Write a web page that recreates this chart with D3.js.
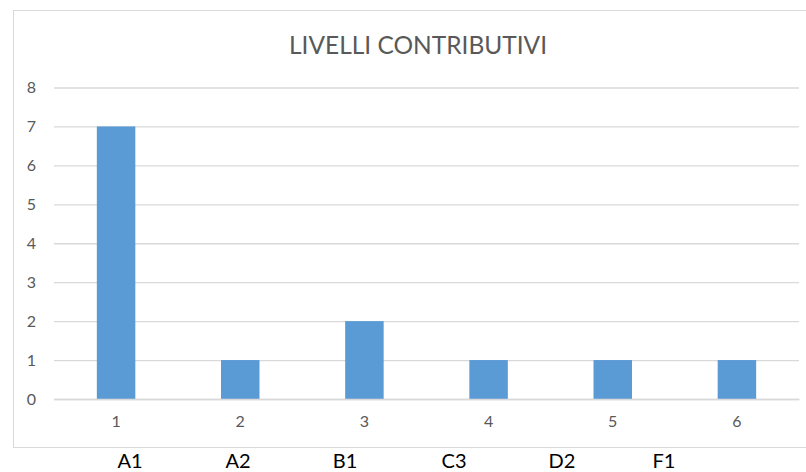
<!DOCTYPE html>
<html>
<head>
<meta charset="utf-8">
<script src="https://cdn.jsdelivr.net/npm/d3@7"></script>
<style>
  html, body { margin: 0; padding: 0; background: #fff; }
  svg { display: block; }
</style>
</head>
<body>
<svg id="chart" width="806" height="472"></svg>
<script>
const title = "LIVELLI CONTRIBUTIVI";
const categories = ["1", "2", "3", "4", "5", "6"];
const values = [7, 1, 2, 1, 1, 1];
const yTicks = [0, 1, 2, 3, 4, 5, 6, 7, 8];
const bottomLabels = ["A1", "A2", "B1", "C3", "D2", "F1"];
const bottomLabelX = [130, 238, 345, 454, 562, 664];

const svg = d3.select("#chart");
const font = "Lato, 'Open Sans', sans-serif";

// chart frame
svg.append("rect")
  .attr("x", 13.5).attr("y", 10.5)
  .attr("width", 820).attr("height", 437)
  .attr("fill", "#fff").attr("stroke", "#D9D9D9").attr("stroke-width", 1);

const x = d3.scaleBand().domain(categories).range([54, 799])
  .paddingInner(0.69).paddingOuter(0.345);
const y = d3.scaleLinear().domain([0, 8]).range([399, 87.5]);

// gridlines
const yAxis = d3.axisLeft(y).tickValues(yTicks).tickSize(-(799 - 54)).tickFormat(d3.format("d")).tickPadding(18);
const gy = svg.append("g").attr("transform", "translate(54,0)").call(yAxis);
gy.select(".domain").remove();
gy.selectAll(".tick line").attr("stroke", "#D9D9D9").attr("stroke-width", 1.3);
gy.selectAll(".tick text")
  .attr("fill", "#595959").attr("font-family", font).attr("font-size", 16);

// bars
svg.append("g").selectAll("rect").data(values).join("rect")
  .attr("x", (d, i) => x(categories[i]))
  .attr("y", d => y(d))
  .attr("width", x.bandwidth())
  .attr("height", d => y(0) - y(d))
  .attr("fill", "#5B9BD5");

// x axis
const xAxis = d3.axisBottom(x).tickSize(0).tickPadding(17);
const gx = svg.append("g").attr("transform", "translate(0,399)").call(xAxis);
gx.select(".domain").attr("stroke", "#D9D9D9").attr("stroke-width", 1.3);
gx.selectAll(".tick text")
  .attr("fill", "#595959").attr("font-family", font).attr("font-size", 16);

// title
svg.append("text")
  .attr("x", 418).attr("y", 53.5)
  .attr("text-anchor", "middle")
  .attr("font-family", font).attr("font-weight", 400).attr("font-size", 25)
  .attr("fill", "#595959")
  .attr("textLength", 258).attr("lengthAdjust", "spacingAndGlyphs")
  .text(title);

// labels below chart
svg.append("g").selectAll("text").data(bottomLabels).join("text")
  .attr("x", (d, i) => bottomLabelX[i])
  .attr("y", 468)
  .attr("text-anchor", "middle")
  .attr("font-family", font).attr("font-size", 20)
  .attr("fill", "#000")
  .text(d => d);
</script>
</body>
</html>
